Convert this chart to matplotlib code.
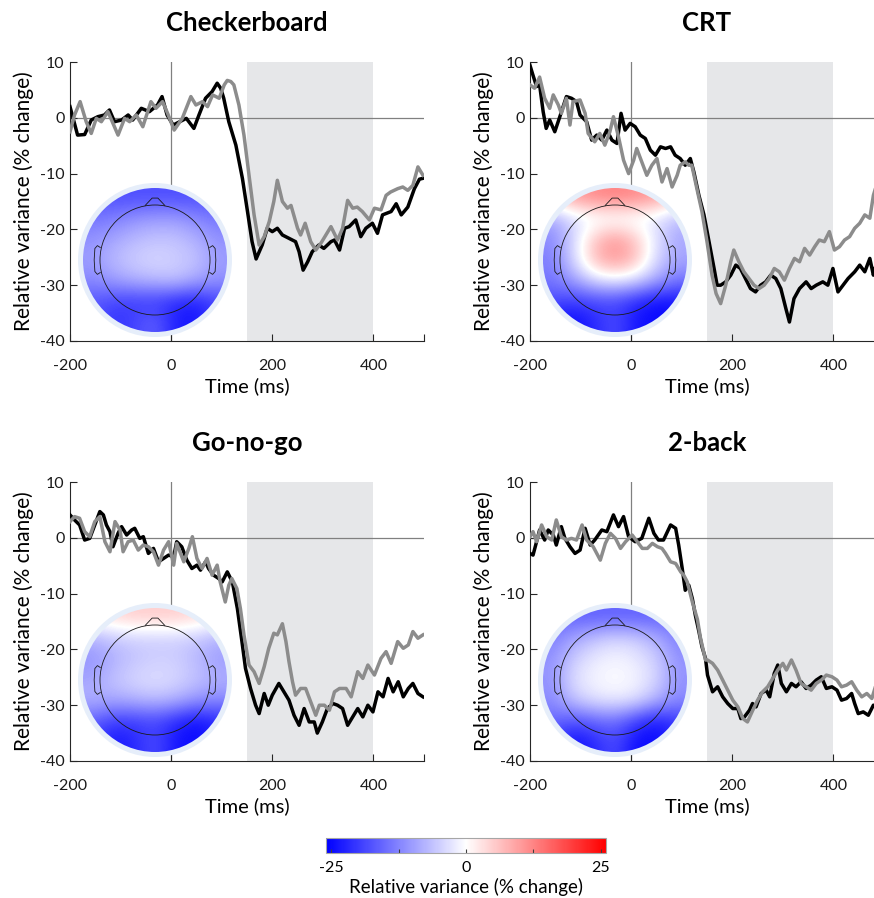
import numpy as np
import matplotlib.pyplot as plt
from matplotlib.patches import Circle, Polygon
from matplotlib.colors import Normalize
import matplotlib.cm as cm

plt.rcParams['font.family'] = ['Lato', 'DejaVu Sans']
plt.rcParams['axes.unicode_minus'] = False

# ---- curve data: columns = time (ms), relative variance (% change) ----
checker_black = np.array([
    (-200, 2.0), (-185, -3.1), (-171, -3.0), (-158, -0.4), (-145, 0.2), (-132, 0.5), (-122, 1.4),
    (-112, -0.7), (-98, -0.4), (-85, 0.5), (-76, -0.4), (-59, 1.7), (-43, 1.1), (-27, 2.3), (-18, 3.8),
    (-8, 0.5), (4, -1.3), (17, -0.7), (30, -0.1), (45, -1.9), (55, 0.5), (68, 3.5), (81, 4.7), (91, 6.2),
    (98, 5.3), (104, 3.5), (114, -0.7), (128, -4.9), (141, -10.9), (151, -16.8), (160, -22.2),
    (168, -25.3), (180, -22.8), (190, -19.8), (200, -20.4), (210, -19.8), (220, -21.0), (233, -21.6),
    (246, -22.2), (253, -24.0), (261, -27.3), (270, -25.8), (279, -24.0), (292, -22.8), (302, -23.4),
    (316, -22.2), (323, -21.9), (333, -23.7), (343, -19.8), (352, -19.5), (365, -18.3), (375, -21.3),
    (385, -19.8), (398, -18.9), (408, -20.7), (418, -17.4), (435, -16.8), (445, -15.4), (455, -17.4),
    (468, -16.0), (481, -12.7), (491, -11.0), (500, -10.8)])
checker_grey = np.array([
    (-200, -2.5), (-191, 0.5), (-180, 2.9), (-168, -0.7), (-158, -2.8), (-148, -0.1), (-138, -0.7),
    (-125, 1.1), (-115, -1.0), (-105, -3.1), (-92, -0.1), (-82, -0.7), (-69, 0.5), (-56, -1.6),
    (-40, 2.9), (-30, 1.7), (-17, 2.9), (-7, 0.8), (6, -2.2), (22, -0.1), (39, 3.8), (49, 2.3),
    (62, 2.9), (72, 2.0), (82, 4.1), (95, 3.5), (105, 5.9), (111, 6.7), (118, 6.5), (124, 5.9),
    (134, 2.3), (144, -3.1), (154, -10.3), (164, -17.4), (174, -22.8), (184, -21.3), (194, -18.6),
    (203, -15.0), (210, -11.2), (220, -15.0), (230, -16.2), (237, -15.7), (250, -19.8), (256, -21.0),
    (265, -18.9), (276, -22.2), (286, -23.7), (296, -22.5), (306, -21.0), (316, -19.5), (329, -21.9),
    (339, -19.8), (349, -14.8), (359, -16.2), (368, -16.0), (378, -16.8), (392, -18.3), (402, -16.2),
    (415, -16.5), (425, -13.9), (434, -13.3), (448, -12.7), (458, -12.4), (468, -13.0), (478, -12.1),
    (488, -8.8), (498, -10.3)])

crt_black = np.array([
    (-200, 9.4), (-194, 7.6), (-187, 5.6), (-181, 5.9), (-174, 1.1), (-168, -1.9), (-161, -0.4),
    (-151, -2.5), (-141, 0.2), (-128, 3.8), (-118, 3.5), (-108, 2.9), (-101, 0.5), (-88, -0.7),
    (-78, -4.0), (-68, -3.1), (-58, -4.0), (-48, -2.2), (-38, -4.0), (-28, -4.6), (-20, 0.8),
    (-12, -2.2), (-2, -1.0), (8, -1.6), (18, -3.1), (28, -3.7), (38, -5.8), (48, -6.7), (58, -5.2),
    (68, -5.5), (78, -5.2), (87, -6.7), (97, -7.3), (107, -8.5), (117, -7.3), (124, -9.7),
    (134, -13.9), (144, -17.4), (154, -22.2), (164, -27.0), (170, -30.0), (177, -30.0), (187, -29.4),
    (197, -28.2), (207, -26.4), (216, -27.0), (226, -28.8), (236, -30.6), (246, -31.2), (256, -30.0),
    (266, -29.4), (276, -28.2), (286, -28.8), (296, -30.6), (306, -34.2), (313, -36.6), (322, -32.4),
    (333, -30.6), (346, -29.4), (356, -30.6), (366, -30.0), (379, -29.4), (389, -30.0), (399, -27.0),
    (409, -31.2), (419, -30.0), (429, -28.8), (442, -27.6), (452, -26.4), (462, -27.6), (472, -25.2),
    (479, -28.2), (485, -26.0), (492, -26.5), (500, -27.0)])
crt_grey = np.array([
    (-200, 5.9), (-191, 5.3), (-181, 7.3), (-171, 3.5), (-161, 1.7), (-154, 4.1), (-144, 2.3),
    (-138, 0.8), (-128, 3.5), (-121, -1.3), (-115, 2.9), (-101, 3.2), (-91, 0.8), (-85, -2.8),
    (-72, -4.3), (-62, -2.8), (-52, -4.9), (-42, -2.5), (-35, 0.2), (-25, -3.4), (-15, -7.6),
    (-5, -10.0), (5, -7.6), (11, -5.5), (21, -7.9), (31, -10.3), (41, -8.5), (51, -7.3), (61, -11.5),
    (71, -9.1), (81, -12.4), (91, -10.3), (97, -8.5), (107, -7.9), (114, -8.5), (120, -8.5),
    (130, -12.7), (140, -16.8), (150, -22.2), (160, -28.2), (168, -31.5), (177, -33.3), (187, -30.0),
    (197, -25.8), (203, -23.7), (213, -25.8), (223, -27.6), (233, -28.8), (243, -30.0), (253, -30.6),
    (263, -30.0), (273, -28.8), (283, -27.0), (293, -27.6), (303, -29.1), (313, -27.0), (323, -25.2),
    (333, -25.8), (343, -23.4), (353, -24.6), (363, -23.1), (372, -21.9), (382, -22.2), (392, -20.4),
    (402, -23.7), (412, -23.1), (422, -21.9), (432, -21.3), (442, -19.8), (452, -18.9), (462, -17.4),
    (472, -18.0), (479, -13.9), (483, -12.7), (490, -11.5), (500, -10.5)])

gonogo_black = np.array([
    (-200, 4.1), (-191, 3.2), (-181, 2.3), (-171, -0.4), (-161, -0.1), (-151, 2.3), (-141, 4.7),
    (-134, 4.1), (-128, 2.3), (-121, 1.1), (-115, -1.6), (-105, 0.8), (-98, 2.0), (-88, 0.5),
    (-78, 1.4), (-72, 1.7), (-62, -0.1), (-55, 0.2), (-45, -2.8), (-35, -1.9), (-25, -4.3),
    (-15, -3.7), (-5, -3.1), (5, -3.4), (11, -0.7), (21, -1.6), (31, -4.0), (41, -5.5), (51, -4.9),
    (58, -5.8), (68, -4.3), (74, -5.5), (84, -6.7), (94, -7.3), (101, -7.9), (111, -6.1), (121, -7.9),
    (131, -12.7), (140, -18.6), (147, -23.4), (157, -27.0), (167, -30.0), (174, -31.5), (184, -27.9),
    (192, -30.0), (200, -28.2), (213, -26.1), (223, -27.6), (233, -29.1), (243, -31.8), (253, -33.6),
    (263, -30.6), (273, -33.0), (283, -33.0), (289, -35.0), (299, -33.0), (309, -30.6), (320, -29.7),
    (329, -30.0), (339, -30.6), (349, -33.6), (359, -32.1), (369, -30.6), (379, -32.1), (389, -30.0),
    (399, -31.2), (409, -27.6), (419, -28.5), (429, -25.2), (439, -27.6), (449, -25.8), (459, -28.5),
    (469, -27.0), (478, -26.1), (488, -27.9), (498, -28.5)])
gonogo_grey = np.array([
    (-200, 2.9), (-191, 3.8), (-181, 3.5), (-171, 1.1), (-161, 0.2), (-151, 2.9), (-141, 3.8),
    (-131, -0.7), (-121, -2.5), (-111, 2.9), (-101, 1.4), (-95, -2.5), (-85, -0.7), (-75, -0.4),
    (-65, -2.2), (-55, -1.3), (-45, -1.6), (-35, -2.5), (-25, -4.9), (-15, -2.2), (-5, -0.7),
    (5, -4.9), (11, -1.0), (25, -4.3), (35, -1.9), (42, 0.2), (51, -3.7), (61, -5.5), (71, -3.7),
    (81, -6.7), (91, -4.9), (97, -7.9), (107, -11.5), (114, -8.5), (120, -7.3), (130, -9.1),
    (137, -12.7), (144, -17.4), (154, -22.8), (164, -24.0), (174, -26.1), (184, -23.1), (193, -19.8),
    (203, -17.1), (210, -17.4), (220, -15.4), (227, -18.6), (233, -22.2), (240, -25.8), (246, -28.2),
    (256, -27.0), (266, -27.0), (276, -29.4), (286, -31.8), (293, -30.0), (303, -30.0), (313, -30.9),
    (323, -27.6), (333, -27.0), (346, -27.0), (356, -28.5), (369, -24.0), (379, -25.2), (389, -22.8),
    (402, -24.6), (415, -21.6), (425, -20.4), (435, -22.5), (448, -18.6), (459, -19.8), (469, -19.2),
    (478, -16.8), (488, -18.0), (498, -17.4)])

twoback_black = np.array([
    (-200, -2.8), (-194, -3.1), (-187, -0.7), (-181, 1.4), (-171, -0.4), (-164, 1.4), (-154, 0.5),
    (-148, -1.3), (-138, 2.0), (-131, -0.1), (-121, -1.6), (-111, -2.8), (-101, -2.2), (-91, 1.7),
    (-81, -1.3), (-72, -0.4), (-58, 1.4), (-48, 1.1), (-35, 4.1), (-25, 2.0), (-15, 3.8), (-5, 0.2),
    (8, -0.7), (21, -0.1), (35, 3.5), (45, 0.8), (54, -0.4), (64, -0.4), (78, 2.3), (88, 1.7),
    (94, -1.3), (101, -5.5), (107, -9.4), (114, -8.5), (121, -10.9), (127, -13.9), (134, -16.8),
    (140, -19.5), (147, -21.6), (151, -24.6), (161, -27.6), (171, -26.7), (181, -28.5), (191, -29.7),
    (201, -30.6), (211, -30.6), (217, -32.4), (224, -32.1), (234, -30.9), (240, -29.7), (247, -30.3),
    (257, -27.9), (267, -27.3), (274, -28.5), (283, -24.3), (290, -22.8), (297, -26.1), (307, -27.6),
    (317, -26.1), (326, -26.7), (336, -25.8), (346, -27.0), (356, -26.4), (366, -25.5), (376, -24.9),
    (386, -27.0), (397, -26.7), (407, -27.3), (416, -29.1), (426, -28.8), (436, -27.9), (442, -29.7),
    (449, -31.5), (459, -31.2), (469, -31.8), (479, -30.0), (490, -30.5), (500, -31.0)])
twoback_grey = np.array([
    (-200, 0.2), (-194, 1.1), (-187, -0.7), (-177, 2.3), (-167, 0.2), (-157, -0.4), (-148, 3.2),
    (-138, 0.2), (-128, -0.4), (-118, -0.1), (-108, -0.4), (-97, 2.3), (-88, -0.4), (-75, -1.6),
    (-61, -4.0), (-51, -1.0), (-41, 0.8), (-31, -0.1), (-21, -1.9), (-11, -0.7), (2, 0.5), (12, -0.7),
    (22, -1.9), (32, -1.9), (42, -1.0), (52, -1.6), (61, -1.9), (68, -2.8), (78, -4.3), (88, -4.6),
    (98, -6.1), (104, -6.7), (111, -7.9), (121, -11.5), (131, -14.6), (137, -17.9), (147, -21.9),
    (151, -21.9), (161, -22.5), (171, -23.7), (181, -25.5), (191, -27.3), (201, -29.1), (211, -30.3),
    (221, -32.4), (230, -33.0), (240, -31.0), (250, -29.1), (260, -27.6), (270, -26.7), (280, -25.2),
    (290, -23.7), (300, -22.5), (307, -23.7), (317, -21.9), (326, -23.7), (336, -26.1), (346, -26.7),
    (356, -27.3), (366, -26.1), (376, -25.5), (386, -24.6), (397, -24.9), (407, -25.5), (416, -26.7),
    (426, -26.4), (436, -25.8), (446, -27.3), (456, -28.5), (466, -27.9), (476, -28.8), (483, -26.7),
    (490, -26.5), (500, -27.0)])

# ---- scalp maps: coarse grids (top row = front of head), % change ----
checker_topo = np.array([
    [-17, -18, -18, -18, -18, -18, -17],
    [-14, -13, -11, -10, -10, -12, -14],
    [-11, -9, -7, -6, -6, -8, -11],
    [-10, -7, -5, -4, -5, -6, -10],
    [-12, -10, -8, -7, -6, -9, -11],
    [-17, -19, -20, -20, -22, -23, -19],
    [-17, -21, -19, -16, -23, -24, -19]])
crt_topo = np.array([
    [6, 10, 12, 13, 12, 10, 6],
    [-9, -4, -2, -2, -2, -3, -7],
    [-12, -4, 6, 11, 6, -3, -9],
    [-13, -4, 7, 11, 7, -4, -9],
    [-14, -10, -4, -2, -4, -9, -14],
    [-18, -20, -19, -19, -22, -25, -24],
    [-25, -25, -22, -18, -24, -25, -25]])
gonogo_topo = np.array([
    [2, 4, 5, 5, 5, 4, 2],
    [-8, -6, -5, -5, -5, -6, -8],
    [-11, -8, -6, -5, -5, -7, -10],
    [-9, -6, -4, -3, -4, -6, -8],
    [-8, -9, -8, -7, -8, -11, -12],
    [-16, -20, -20, -19, -22, -25, -22],
    [-20, -24, -22, -18, -24, -25, -22]])
twoback_topo = np.array([
    [-15, -16, -16, -16, -16, -16, -15],
    [-13, -9, -6, -4, -5, -8, -13],
    [-11, -5, -2, -1, -2, -5, -11],
    [-11, -3, -1, 0, -1, -4, -11],
    [-12, -6, -3, -2, -3, -8, -12],
    [-15, -18, -16, -15, -20, -24, -20],
    [-20, -25, -22, -18, -25, -25, -22]])

titles = ["Checkerboard", "CRT", "Go-no-go", "2-back"]
blacks = [checker_black, crt_black, gonogo_black, twoback_black]
greys = [checker_grey, crt_grey, gonogo_grey, twoback_grey]
topos = [checker_topo, crt_topo, gonogo_topo, twoback_topo]
origins = [(70, 62), (530, 62), (70, 482), (530, 482)]  # axes left/top in pixels

W, H = 874, 898
fig = plt.figure(figsize=(W / 100, H / 100), dpi=100)
norm = Normalize(-26, 26)


def px_axes(left, top, width, height):
    return fig.add_axes([left / W, 1 - (top + height) / H, width / W, height / H])


for title, blk, gry, topo, (x0, y0) in zip(titles, blacks, greys, topos, origins):
    ax = px_axes(x0, y0, 354, 279)
    ax.axvspan(150, 400, color='#e6e7e9', lw=0, zorder=0)
    ax.axhline(0, color='#808080', lw=0.9, zorder=1)
    ax.axvline(0, color='#808080', lw=0.9, zorder=1)
    ax.plot(blk[:, 0], blk[:, 1], color='black', lw=2.5, solid_joinstyle='round', zorder=3)
    ax.plot(gry[:, 0], gry[:, 1], color='#8c8c8c', lw=2.5, solid_joinstyle='round', zorder=3)
    ax.set_xlim(-200, 500)
    ax.set_ylim(-40, 10)
    for s in ['top', 'right']:
        ax.spines[s].set_visible(False)
    for s in ['left', 'bottom']:
        ax.spines[s].set_color('#262626')
        ax.spines[s].set_linewidth(0.8)
    ax.set_xticks([-200, 0, 200, 400, 500])
    ax.set_xticklabels(['-200', '0', '200', '400', ''])
    ax.set_yticks([-40, -30, -20, -10, 0, 10])
    ax.tick_params(direction='in', length=5, width=0.8, color='#262626',
                   labelsize=11.5, labelcolor='#1a1a1a')
    ax.tick_params(axis='x', pad=13)
    ax.tick_params(axis='y', pad=4)
    ax.set_xlabel('Time (ms)', fontsize=14.5, labelpad=3)
    ax.set_ylabel('Relative variance (% change)', fontsize=15, labelpad=4)
    ax.set_title(title, fontsize=18.5, fontweight='bold', pad=22)

    # scalp map inset
    cx, cy = x0 + 85, y0 + 198
    r = 72.0
    tax = px_axes(cx - 85, cy - 85, 170, 170)
    tax.add_patch(Circle((0, 0), 77 / r, fc='#e6eefa', ec='none', zorder=0))
    im = tax.imshow(topo, cmap='bwr', norm=norm, extent=[-1, 1, -1, 1],
                    interpolation='bicubic', origin='upper', zorder=1)
    im.set_clip_path(Circle((0, 0), 1, transform=tax.transData))
    hr = 55 / r
    tax.add_patch(Circle((0, 0), hr, fill=False, ec='#1a1a1a', lw=0.6, zorder=2))
    tax.add_patch(Polygon([(-0.14, hr - 0.01), (-0.04, 0.86), (0.04, 0.86), (0.14, hr - 0.01)],
                          closed=False, fill=False, ec='#1a1a1a', lw=0.6, zorder=2))
    for sgn in (-1, 1):
        ear = [(sgn * 0.755, 0.17), (sgn * 0.80, 0.20), (sgn * 0.835, 0.16), (sgn * 0.845, 0.0),
               (sgn * 0.835, -0.16), (sgn * 0.80, -0.20), (sgn * 0.755, -0.17)]
        tax.add_patch(Polygon(ear, closed=False, fill=False, ec='#1a1a1a', lw=0.6, zorder=2))
    tax.set_xlim(-85 / r, 85 / r)
    tax.set_ylim(-85 / r, 85 / r)
    tax.axis('off')

# colour bar
cax = px_axes(326, 838, 280, 14.5)
cb = fig.colorbar(cm.ScalarMappable(norm=norm, cmap='bwr'), cax=cax, orientation='horizontal')
cb.set_ticks([-25, -12.5, 0, 12.5, 25])
cb.set_ticklabels(['-25', '', '0', '', '25'])
cax.tick_params(direction='in', length=3, width=0.8, color='#404040', labelsize=11.5, pad=6)
cb.outline.set_edgecolor('#a6a6a6')
cb.outline.set_linewidth(0.8)
cb.set_label('Relative variance (% change)', fontsize=13.5, labelpad=2)

fig.savefig('out.png', dpi=100)
